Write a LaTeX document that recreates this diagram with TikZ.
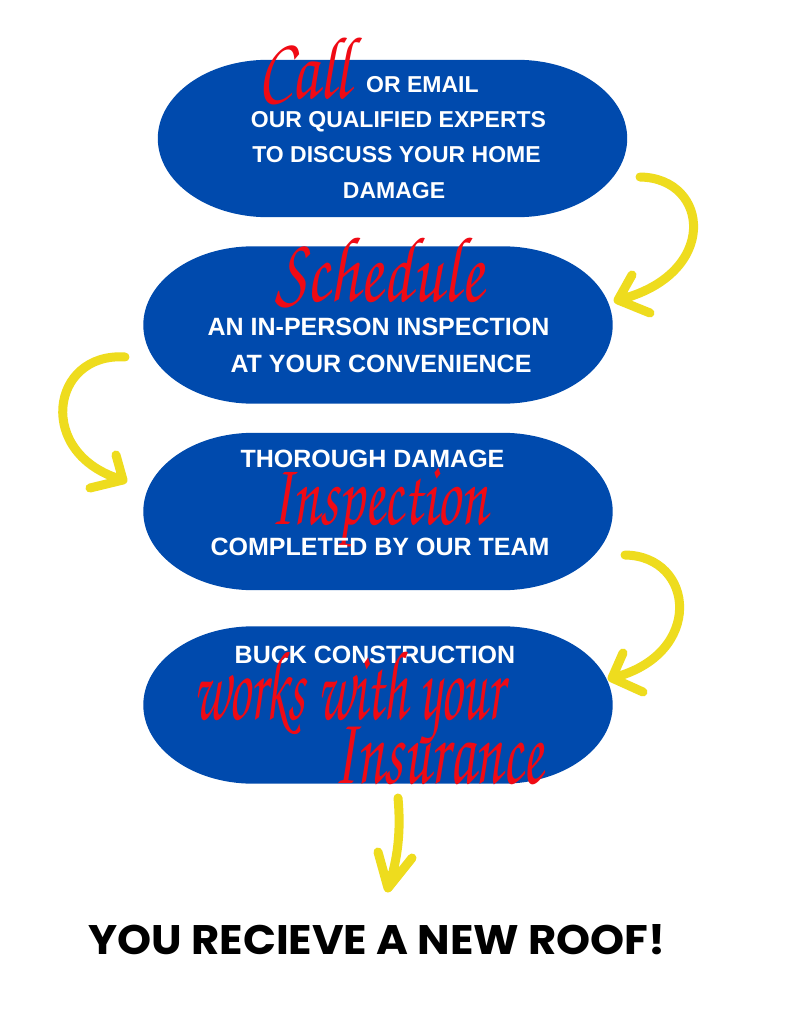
\documentclass[tikz,border=0pt]{standalone}
\usepackage{fontspec}
\usepackage{graphicx}
\newfontfamily\pillfont{Liberation Sans}
\newfontfamily\roofont{Poppins}
\newfontfamily\brushfont{texgyrechorus-mediumitalic.otf}
\definecolor{pillblue}{RGB}{0,74,173}
\definecolor{arrowyellow}{RGB}{238,220,30}
\definecolor{brushred}{RGB}{240,10,20}
\tikzset{
  pill/.style={minimum width=469pt,minimum height=157pt,inner sep=0pt},
  pilltext/.style={font=\pillfont\bfseries\fontsize{#1}{#1}\selectfont,text=white,inner sep=0pt,anchor=base},
  pilltext/.default=25,
  brush/.style={font=\brushfont\fontsize{40}{44}\selectfont,text=brushred,inner sep=0pt,anchor=north west},
  yellowarrow/.style={draw=arrowyellow,line width=9pt,line cap=round,line join=round},
}
\begin{document}
\begin{tikzpicture}[x=1pt,y=-1pt]
\pgfmathsetmacro{\ea}{110}
\pgfmathsetmacro{\eb}{78.5}
\pgfmathsetmacro{\ek}{0.5523}
\fill[white] (0,0) rectangle (791,1024);
\useasboundingbox (0,0) rectangle (791,1024);
% the four steps
\foreach \cx/\cy/\nm in {392.5/138.5/step1,378/325/step2,378/511.5/step3,378/705/step4}{
  \node[pill] (\nm) at (\cx,\cy) {};
  \fill[pillblue] ([xshift=\ea]\nm.north west)--([xshift=-\ea]\nm.north east)
    .. controls +(\ek*\ea,0) and +(0,-\ek*\eb) .. (\nm.east)
    .. controls +(0,\ek*\eb) and +(\ek*\ea,0) .. ([xshift=-\ea]\nm.south east)
    --([xshift=\ea]\nm.south west)
    .. controls +(-\ek*\ea,0) and +(0,\ek*\eb) .. (\nm.west)
    .. controls +(0,-\ek*\eb) and +(-\ek*\ea,0) .. ([xshift=\ea]\nm.north west)--cycle;
}
% step 1
\node[brush] (call) at (258,38) {\resizebox*{92pt}{67pt}{Call}};
\node[pilltext=23,anchor=base west] (l1a) at (366,92.2) {OR EMAIL};
\node[pilltext=23] (l1b) at (398.5,127.2) {OUR QUALIFIED EXPERTS};
\node[pilltext=23] (l1c) at (396.5,162.7) {TO DISCUSS YOUR HOME};
\node[pilltext=23] (l1d) at (394,198.2) {DAMAGE};
% step 2
\node[brush] (sched) at (275,238) {\resizebox*{208pt}{70pt}{Schedule}};
\node[pilltext] (l2a) at (378.5,335) {AN IN-PERSON INSPECTION};
\node[pilltext] (l2b) at (381,372) {AT YOUR CONVENIENCE};
% step 3
\node[pilltext] (l3a) at (372.5,467) {THOROUGH DAMAGE};
\node[brush] (insp) at (270,468) {\resizebox*{217pt}{79pt}{Inspection}};
\node[pilltext] (l3b) at (380,555) {COMPLETED BY OUR TEAM};
% step 4
\node[pilltext] (l4a) at (375,663) {BUCK CONSTRUCTION};
\node[brush] (works) at (193,652) {\resizebox*{310pt}{92pt}{works with your}};
\node[brush] (insur) at (333,727) {\resizebox*{210pt}{58pt}{Insurance}};
% result
\node[font=\roofont\bfseries,inner sep=0pt] (goal) at (377,940) {\resizebox{577pt}{30pt}{YOU RECIEVE A NEW ROOF!}};
% arrows
\coordinate (s1) at (640,177); \coordinate (t1) at (618,300);
\coordinate (s2) at (125,357); \coordinate (t2) at (123,480);
\coordinate (s3) at (625,555); \coordinate (t3) at (612,678);
\coordinate (s4) at (398,798); \coordinate (t4) at (388,888);
\draw[yellowarrow] (s1) .. controls (710,178) and (720,275) .. (t1)--++(14,-25) (t1)--++(32,13);
\draw[yellowarrow] (s2) .. controls (50,352) and (35,455) .. (t2)--++(-7,-25) (t2)--++(-33,8);
\draw[yellowarrow] (s3) .. controls (695,556) and (705,655) .. (t3)--++(11,-25) (t3)--++(31,14);
\draw[yellowarrow] (s4) .. controls (401,830) and (398,860) .. (t4)--++(-10,-36) (t4)--++(24,-30);
\end{tikzpicture}
\end{document}
